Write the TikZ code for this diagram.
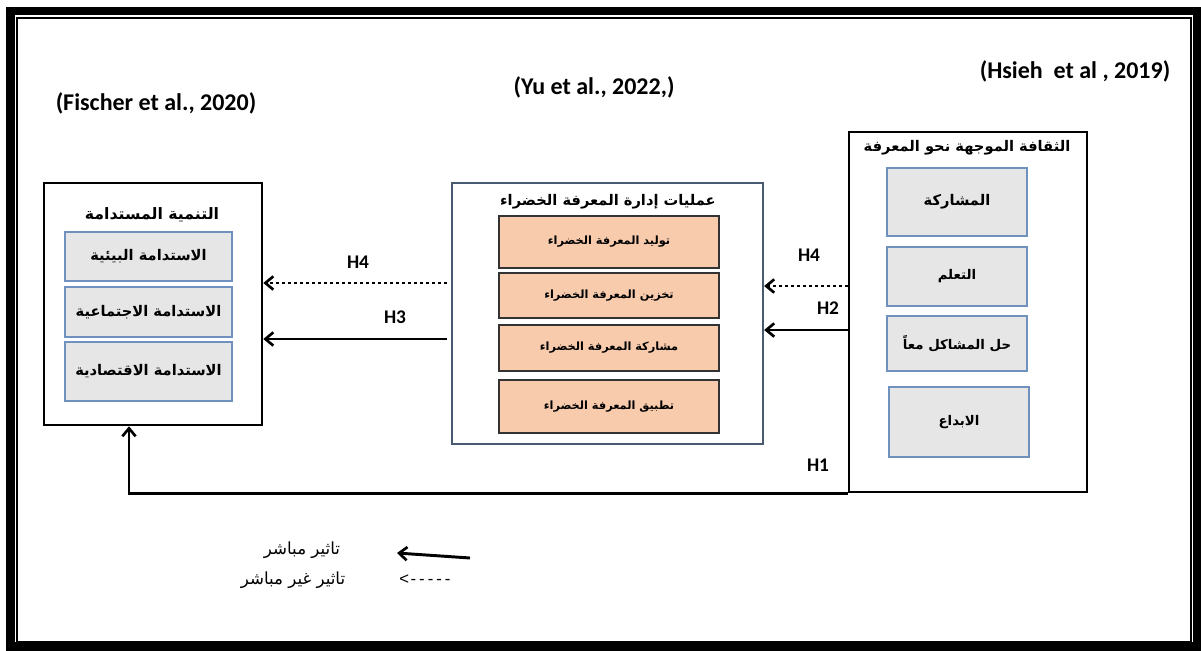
\documentclass[tikz,border=0pt]{standalone}
\usepackage{fontspec}
\setmainfont{Liberation Sans}
\newfontfamily\arabicfont[Script=Arabic]{DejaVu Sans}
\newfontfamily\calfont{Carlito}
\TeXXeTstate=1
\usetikzlibrary{arrows.meta,fit}
\definecolor{boxgray}{HTML}{E6E6E6}
\definecolor{boxblue}{HTML}{7090C0}
\definecolor{peach}{HTML}{F8CBAD}
\definecolor{slate}{HTML}{4A5A70}
\newcommand{\artxt}[1]{{\arabicfont\bfseries\beginR #1\endR}}
\newcommand{\arreg}[1]{{\arabicfont\beginR #1\endR}}
\begin{document}
\begin{tikzpicture}[x=0.75pt,y=-0.75pt,
  frameouter/.style={draw=black,line width=6.4pt},
  frameinner/.style={draw=black,line width=1.5pt},
  bigbox/.style={draw=black,line width=1.9pt,inner sep=0pt},
  midbox/.style={draw=slate,line width=1.7pt,inner sep=0pt},
  graybox/.style={draw=boxblue,fill=boxgray,line width=0.9pt,inner sep=0pt},
  peachbox/.style={draw=black!80,fill=peach,line width=1pt,inner sep=0pt},
  txt/.style={inner sep=0pt},
  title/.style={txt,font=\fontsize{11}{13}\selectfont},
  intxtL/.style={txt,font=\fontsize{11}{13}\selectfont},
  intxtM/.style={txt,font=\fontsize{8.5}{10}\selectfont},
  intxtR/.style={txt,font=\fontsize{10}{12}\selectfont},
  cite/.style={txt,font=\calfont\bfseries\fontsize{18}{20}\selectfont},
  hlab/.style={txt,font=\calfont\bfseries\fontsize{14.5}{16}\selectfont},
  legtxt/.style={txt,font=\fontsize{12.5}{14}\selectfont},
  solidarr/.style={line width=2.2pt,-{Straight Barb[length=6pt,width=10pt,line width=2pt]}},
  dotarr/.style={line width=2.2pt,dash pattern=on 2.2pt off 2.3pt,-{Straight Barb[length=6pt,width=10pt,line width=2pt]}}
]
\useasboundingbox (0,0) rectangle (1201,650);
\fill[white] (0,0) rectangle (1201,650);
% page frame
\draw[frameouter] (10.3,11) rectangle (1197.7,646.7);
\draw[frameinner] (17,18) rectangle (1191,642);

% citations
\node[cite] (c1) at (156,103) {(Fischer et al., 2020)};
\node[cite] (c2) at (594,87) {(Yu et al., 2022,)};
\node[cite] (c3) at (1075,71) {(Hsieh\ \ et al , 2019)};

% left box
\node[bigbox,fit={(44,183)(262,425)}] (lbox) {};
\node[title,font=\fontsize{11.8}{13}\selectfont] (ltitle) at (152,215) {\artxt{التنمية المستدامة}};
\node[graybox,fit={(65,232)(232,281)}] (l1) {};
\node[graybox,fit={(65,287)(232,337)}] (l2) {};
\node[graybox,fit={(65,342)(232,401)}] (l3) {};
\node[intxtL] (l1t) at (l1.center) {\artxt{الاستدامة البيئية}};
\node[intxtL] (l2t) at (l2.center) {\artxt{الاستدامة الاجتماعية}};
\node[intxtL] (l3t) at (l3.center) {\artxt{الاستدامة الاقتصادية}};

% middle box
\node[midbox,fit={(452,183)(763,444)}] (mbox) {};
\node[title] (mtitle) at (608,202) {\artxt{عمليات إدارة المعرفة الخضراء}};
\node[peachbox,fit={(499,216)(719,268)}] (m1) {};
\node[peachbox,fit={(499,273)(719,318)}] (m2) {};
\node[peachbox,fit={(499,325)(719,371)}] (m3) {};
\node[peachbox,fit={(499,380)(719,433)}] (m4) {};
\node[intxtM] (m1t) at (m1.center) {\artxt{توليد المعرفة الخضراء}};
\node[intxtM] (m2t) at (m2.center) {\artxt{تخزين المعرفة الخضراء}};
\node[intxtM] (m3t) at (m3.center) {\artxt{مشاركة المعرفة الخضراء}};
\node[intxtM] (m4t) at (m4.center) {\artxt{تطبيق المعرفة الخضراء}};

% right box
\node[bigbox,fit={(849,132)(1087,492)}] (rbox) {};
\node[title] (rtitle) at (967,148) {\artxt{الثقافة الموجهة نحو المعرفة}};
\node[graybox,fit={(887,168)(1027,236)}] (r1) {};
\node[graybox,fit={(887,247)(1027,306)}] (r2) {};
\node[graybox,fit={(887,316)(1027,371)}] (r3) {};
\node[graybox,fit={(889,387)(1029,457)}] (r4) {};
\node[intxtR,font=\fontsize{11}{12}\selectfont] (r1t) at (r1.center) {\artxt{المشاركة}};
\node[intxtR] (r2t) at (r2.center) {\artxt{التعلم}};
\node[intxtR] (r3t) at (r3.center) {\artxt{حل المشاكل معاً}};
\node[intxtR] (r4t) at (r4.center) {\artxt{الابداع}};

% connectors
\draw[dotarr] (rbox.west |- 0,286) -- (mbox.east |- 0,286);
\draw[solidarr] (rbox.west |- 0,330) -- (mbox.east |- 0,330);
\draw[dotarr] ([xshift=-3]mbox.west |- 0,283) -- (lbox.east |- 0,283);
\draw[solidarr] ([xshift=-3]mbox.west |- 0,339) -- (lbox.east |- 0,339);
\draw[solidarr] (rbox.south west) -| (lbox.south -| 129,0);

% labels
\node[hlab] (h4r) at (809,255) {H4};
\node[hlab] (h2) at (828,308) {H2};
\node[hlab] (h4l) at (358,262) {H4};
\node[hlab] (h3) at (395,317) {H3};
\node[hlab] (h1) at (818,465) {H1};

% legend
\coordinate (lgA) at (470,558);
\coordinate (lgB) at (397,553);
\draw[solidarr] (lgA) -- (lgB);
\node[legtxt] (lg1) at (302,550) {\arreg{تاثير مباشر}};
\node[legtxt] (lg2) at (293,580) {\arreg{تاثير غير مباشر}};
\node[legtxt] (lg3) at (425,580) {<\kern1pt-\kern2.3pt-\kern2.3pt-\kern2.3pt-\kern2.3pt-};
\end{tikzpicture}
\end{document}
